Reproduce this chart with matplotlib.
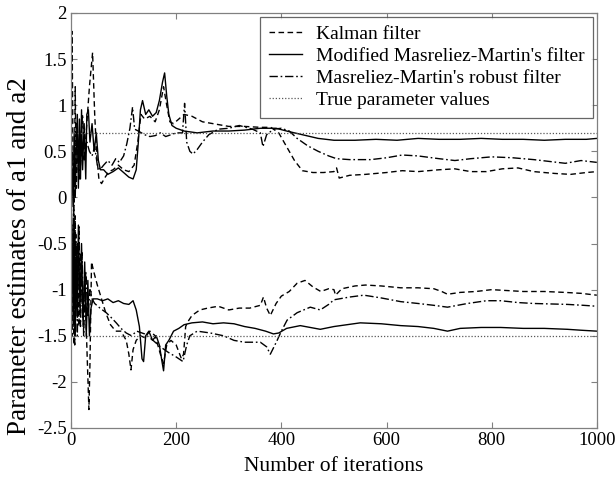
import numpy as np
import matplotlib
matplotlib.use('Agg')
import matplotlib.pyplot as plt
import matplotlib as mpl

# Read-off data: (iteration, estimate) for each filter and parameter
# Kalman filter
kal_a1_x = [0, 2, 4, 6, 8, 10, 13, 16, 20, 25, 30, 35, 41, 45, 49, 53, 58, 65, 72, 80, 90, 100, 110, 120,
            127, 133, 140, 150, 160, 168, 176, 182, 188, 195, 205, 215, 230, 250, 270, 300, 330, 360, 380,
            395, 410, 425, 440, 460, 480, 500, 505, 510, 530, 560, 600, 630, 660, 700, 730, 760, 790, 820,
            850, 880, 920, 950, 980, 1000]
kal_a1_y = [0.0, 1.8, 0.3, -0.05, 1.2, 0.1, 0.6, 0.2, 0.5, 0.4, 0.8, 1.2, 1.57, 0.9, 0.45, 0.2, 0.15, 0.22,
            0.28, 0.3, 0.35, 0.3, 0.28, 0.35, 0.6, 0.9, 0.85, 0.88, 0.82, 0.95, 1.2, 1.0, 0.82, 0.8, 0.85,
            0.9, 0.88, 0.82, 0.8, 0.77, 0.77, 0.76, 0.76, 0.7, 0.55, 0.4, 0.29, 0.27, 0.27, 0.28, 0.32,
            0.21, 0.24, 0.25, 0.27, 0.29, 0.28, 0.3, 0.31, 0.28, 0.28, 0.31, 0.32, 0.28, 0.26, 0.25, 0.27,
            0.28]
kal_a2_x = [0, 2, 4, 6, 8, 10, 12, 15, 18, 22, 26, 30, 34, 36, 39, 43, 50, 58, 66, 75, 85, 95, 105, 110,
            114, 118, 124, 132, 140, 150, 160, 170, 176, 182, 190, 200, 210, 214, 218, 222, 230, 245, 260,
            280, 300, 320, 340, 360, 366, 372, 379, 390, 400, 415, 430, 445, 460, 475, 490, 500, 503, 515,
            540, 560, 590, 627, 660, 690, 705, 716, 740, 770, 800, 830, 860, 900, 940, 970, 1000]
kal_a2_y = [0.0, -1.5, -0.3, -1.6, -0.2, -1.2, -0.5, -1.4, -0.6, -1.3, -0.9, -1.6, -2.3, -1.8, -0.7, -0.8,
            -0.95, -1.1, -1.25, -1.38, -1.45, -1.45, -1.55, -1.7, -1.87, -1.65, -1.55, -1.5, -1.52, -1.45,
            -1.5, -1.7, -1.8, -1.6, -1.55, -1.6, -1.75, -1.7, -1.4, -1.35, -1.28, -1.22, -1.2, -1.18, -1.22,
            -1.2, -1.2, -1.17, -1.08, -1.2, -1.28, -1.15, -1.07, -1.02, -0.93, -0.9, -0.97, -1.02, -0.99,
            -1.0, -1.06, -0.99, -0.96, -0.95, -0.96, -0.98, -0.98, -0.99, -1.02, -1.05, -1.03, -1.02, -1.0,
            -1.01, -1.02, -1.02, -1.03, -1.04, -1.06]

# Modified Masreliez-Martin's filter
mod_a1_x = [0, 2, 4, 6, 8, 10, 12, 14, 16, 18, 20, 22, 25, 28, 30, 33, 36, 40, 44, 48, 52, 56, 62, 70, 80,
            90, 100, 110, 118, 124, 128, 132, 136, 142, 148, 155, 162, 168, 174, 178, 182, 186, 192, 200,
            215, 240, 270, 300, 330, 360, 390, 410, 440, 470, 500, 540, 580, 620, 660, 700, 740, 780, 820,
            860, 900, 940, 980, 1000]
mod_a1_y = [0.0, 0.3, -0.1, 0.7, 0.0, 0.5, 0.9, 0.1, 0.85, 0.2, 0.95, 0.3, 0.8, 0.2, 0.9, 0.95, 0.6, 0.8,
            0.5, 0.7, 0.4, 0.3, 0.3, 0.25, 0.28, 0.32, 0.27, 0.22, 0.2, 0.3, 0.6, 0.95, 1.05, 0.9, 0.95,
            0.88, 0.92, 1.05, 1.25, 1.35, 1.1, 0.9, 0.78, 0.75, 0.72, 0.7, 0.72, 0.72, 0.73, 0.75, 0.75,
            0.72, 0.68, 0.64, 0.62, 0.62, 0.63, 0.62, 0.64, 0.63, 0.63, 0.64, 0.63, 0.63, 0.62, 0.63, 0.63,
            0.64]
mod_a2_x = [0, 2, 4, 6, 8, 10, 12, 14, 17, 20, 23, 26, 29, 32, 35, 38, 42, 50, 60, 70, 80, 90, 100, 110,
            118, 124, 130, 135, 138, 142, 148, 155, 162, 168, 173, 176, 180, 186, 195, 205, 215, 230, 250,
            270, 290, 310, 330, 350, 370, 385, 395, 410, 436, 474, 500, 550, 590, 627, 660, 690, 716, 740,
            780, 817, 860, 900, 944, 970, 1000]
mod_a2_y = [0.0, -0.4, -1.4, -0.2, -1.5, -0.6, -1.3, -0.3, -1.2, -0.5, -1.4, -0.7, -1.5, -0.9, -1.5, -1.2,
            -1.1, -1.1, -1.12, -1.1, -1.14, -1.12, -1.15, -1.16, -1.12, -1.22, -1.4, -1.75, -1.78, -1.5,
            -1.45, -1.55, -1.5, -1.6, -1.78, -1.88, -1.6, -1.55, -1.45, -1.42, -1.38, -1.36, -1.35, -1.37,
            -1.36, -1.37, -1.4, -1.42, -1.45, -1.48, -1.47, -1.42, -1.39, -1.43, -1.4, -1.36, -1.37, -1.39,
            -1.4, -1.42, -1.45, -1.42, -1.41, -1.41, -1.42, -1.42, -1.43, -1.44, -1.45]

# Masreliez-Martin's robust filter
rob_a1_x = [0, 3, 5, 8, 11, 14, 18, 22, 26, 30, 35, 40, 45, 50, 55, 62, 70, 78, 85, 92, 100, 106, 112, 117,
            121, 128, 140, 150, 160, 170, 180, 190, 200, 212, 216, 220, 226, 232, 240, 250, 262, 280, 300,
            320, 345, 360, 365, 372, 385, 400, 415, 430, 450, 470, 490, 505, 530, 570, 600, 630, 660, 700,
            730, 760, 800, 840, 880, 910, 940, 970, 1000]
rob_a1_y = [0.0, 0.5, -0.2, 0.4, 0.8, 0.3, 0.6, 0.9, 0.4, 0.6, 0.5, 0.45, 0.55, 0.35, 0.3, 0.35, 0.4, 0.35,
            0.42, 0.38, 0.45, 0.58, 0.75, 0.98, 0.74, 0.72, 0.68, 0.66, 0.67, 0.7, 0.66, 0.68, 0.7, 0.7,
            1.02, 0.6, 0.5, 0.47, 0.52, 0.6, 0.68, 0.74, 0.75, 0.78, 0.74, 0.7, 0.55, 0.68, 0.74, 0.75, 0.72,
            0.64, 0.56, 0.5, 0.45, 0.42, 0.41, 0.41, 0.43, 0.46, 0.45, 0.42, 0.4, 0.42, 0.44, 0.43, 0.41,
            0.39, 0.37, 0.4, 0.38]
rob_a2_x = [0, 3, 5, 7, 9, 12, 15, 18, 21, 24, 28, 32, 36, 40, 45, 55, 67, 76, 86, 95, 105, 115, 125, 140,
            156, 170, 185, 200, 213, 220, 226, 240, 265, 290, 310, 330, 360, 372, 379, 386, 392, 400, 411,
            430, 455, 474, 490, 500, 530, 557, 590, 627, 660, 690, 716, 754, 790, 817, 850, 880, 944, 975,
            1000]
rob_a2_y = [0.0, -1.0, -0.1, -1.6, -0.4, -1.5, -0.3, -1.4, -0.6, -1.5, -0.8, -1.3, -1.0, -1.1, -1.15, -1.2,
            -1.25, -1.3, -1.36, -1.42, -1.47, -1.5, -1.45, -1.48, -1.55, -1.62, -1.68, -1.73, -1.78, -1.6,
            -1.5, -1.45, -1.47, -1.5, -1.55, -1.57, -1.57, -1.62, -1.7, -1.62, -1.55, -1.45, -1.33, -1.25,
            -1.19, -1.22, -1.16, -1.11, -1.08, -1.06, -1.09, -1.13, -1.15, -1.17, -1.19, -1.15, -1.12, -1.12,
            -1.14, -1.15, -1.16, -1.17, -1.18]

true_a1 = 0.7
true_a2 = -1.5

# Style
plt.rcParams['font.family'] = 'serif'
plt.rcParams['font.serif'] = ['Liberation Serif', 'DejaVu Serif']
plt.rcParams['axes.unicode_minus'] = False
plt.rcParams['xtick.direction'] = 'in'
plt.rcParams['ytick.direction'] = 'in'

tsize = 13.5
lw = 1.0
dash = (0, (4, 2.5))
dashdot = (0, (6, 2, 1.2, 2))
dot = (0, (1, 1.5))

fig = plt.figure(figsize=(6.16, 4.79), dpi=100)
ax = fig.add_axes([0.1153, 0.1065, 0.8536, 0.8664])

ax.plot(kal_a1_x, kal_a1_y, color='k', linestyle=dash, linewidth=lw, label='Kalman filter')
ax.plot(mod_a1_x, mod_a1_y, color='k', linestyle='-', linewidth=lw, label="Modified Masreliez-Martin's filter")
ax.plot(rob_a1_x, rob_a1_y, color='k', linestyle=dashdot, linewidth=lw, label="Masreliez-Martin's robust filter")
ax.axhline(true_a1, color='0.35', linestyle=dot, linewidth=0.9, label='True parameter values')
ax.plot(kal_a2_x, kal_a2_y, color='k', linestyle=dash, linewidth=lw)
ax.plot(mod_a2_x, mod_a2_y, color='k', linestyle='-', linewidth=lw)
ax.plot(rob_a2_x, rob_a2_y, color='k', linestyle=dashdot, linewidth=lw)
ax.axhline(true_a2, color='0.35', linestyle=dot, linewidth=0.9)

ax.set_xlim(0, 1000)
ax.set_ylim(-2.5, 2)
ax.set_xticks(np.arange(0, 1001, 200))
ax.set_yticks(np.arange(-2.5, 2.01, 0.5))
ax.yaxis.set_major_formatter(mpl.ticker.FormatStrFormatter('%g'))
ax.tick_params(top=True, right=True, labelsize=tsize, color='0.5', length=4, width=0.8, pad=3)
for s in ax.spines.values():
    s.set_color('0.5')
    s.set_linewidth(0.9)

ax.set_xlabel('Number of iterations', fontsize=15.5, labelpad=6)
ax.set_ylabel('Parameter estimates of a1 and a2', fontsize=19.5)
ax.yaxis.set_label_coords(-0.074, 0.415)

leg = ax.legend(loc='upper right', fontsize=14, frameon=True, fancybox=False,
                edgecolor='0.25', borderaxespad=0.2, handlelength=1.7, handletextpad=0.7,
                labelspacing=0.22, borderpad=0.45)
leg.get_frame().set_linewidth(0.9)

plt.savefig('out.png', dpi=100)
plt.close()
